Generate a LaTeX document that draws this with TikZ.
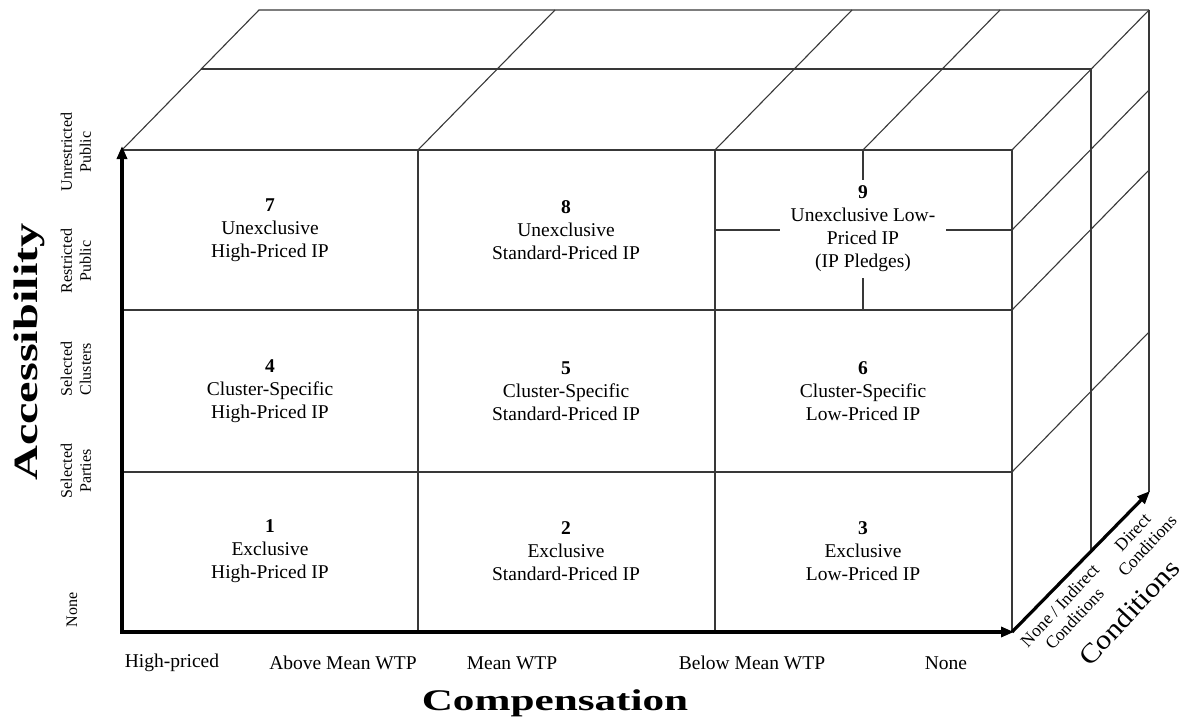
\documentclass[tikz,border=0pt]{standalone}
\usepackage{fontspec}
\setmainfont{Liberation Serif}
\usetikzlibrary{arrows.meta}
\begin{document}
\begin{tikzpicture}[x=1pt,y=-1pt,
  grid/.style={line width=1.1pt, draw=black!78},
  axisline/.style={line width=3.2pt, draw=black, line join=miter},
  tip/.tip={Triangle[length=13pt,width=10pt]},
  cell/.style={align=center, font=\fontsize{19.5}{23}\selectfont, inner sep=0pt},
  sidelab/.style={align=center, rotate=90, font=\fontsize{16}{19}\selectfont, inner sep=0pt},
  botlab/.style={font=\fontsize{19.5}{23}\selectfont, inner sep=0pt},
  condlab/.style={align=center, rotate=47, font=\fontsize{17.5}{20}\selectfont, inner sep=0pt},
  title/.style={font=\bfseries\fontsize{30}{34}\selectfont, inner sep=0pt}]
\useasboundingbox (0,0) rectangle (1186,725);

% named corners
\coordinate (FTL) at (122,150);
\coordinate (FTR) at (1012,150);
\coordinate (FBL) at (122,632);
\coordinate (FBR) at (1012,632);
\coordinate (BTL) at (259,10);
\coordinate (BTR) at (1149,10);
\coordinate (BBR) at (1149,492);
\coordinate (MTL) at (201,69);
\coordinate (MTR) at (1091,69);
\coordinate (MBR) at (1091,551);

% front face
\draw[grid] (FTL) -- (FTR) -- (FBR);
\draw[grid] (122,310) -- (1012,310);
\draw[grid] (122,472) -- (1012,472);
\draw[grid] (418,150) -- (418,632);
\draw[grid] (715,150) -- (715,632);
\draw[grid] (863,150) -- (863,310);
\draw[grid] (715,230) -- (1012,230);

% top face
\draw[grid] (FTL) -- (BTL) -- (BTR);
\draw[grid] (418,150) -- (555,10);
\draw[grid] (715,150) -- (852,10);
\draw[grid] (863,150) -- (1000,10);
\draw[grid] (FTR) -- (BTR);
\draw[grid] (MTL) -- (MTR);

% right face
\draw[grid] (1012,230) -- (1149,90);
\draw[grid] (1012,310) -- (1149,170);
\draw[grid] (1012,472) -- (1149,332);
\draw[grid] (BTR) -- (BBR);
\draw[grid] (MTR) -- (MBR);

% cells
\node[cell] (c7) at (270,230) {\textbf{7}\\Unexclusive\\High-Priced IP};
\node[cell] (c8) at (566,230) {\textbf{8}\\Unexclusive\\Standard-Priced IP};
\node[cell, fill=white, inner xsep=11pt, inner ysep=6pt] (c9) at (863,229) {\textbf{9}\\Unexclusive Low-\\Priced IP\\(IP Pledges)};
\node[cell] (c4) at (270,391) {\textbf{4}\\Cluster-Specific\\High-Priced IP};
\node[cell] (c5) at (566,391) {\textbf{5}\\Cluster-Specific\\Standard-Priced IP};
\node[cell] (c6) at (863,391) {\textbf{6}\\Cluster-Specific\\Low-Priced IP};
\node[cell] (c1) at (270,551) {\textbf{1}\\Exclusive\\High-Priced IP};
\node[cell] (c2) at (566,551) {\textbf{2}\\Exclusive\\Standard-Priced IP};
\node[cell] (c3) at (863,551) {\textbf{3}\\Exclusive\\Low-Priced IP};

% axes
\draw[axisline, tip-tip] (122,146) -- (FBL) -- (1014,632);
\draw[axisline, -tip] (FBR) -- (1150,491);

% accessibility labels
\node[sidelab] (a0) at (72,610) {None};
\node[sidelab] (a1) at (76,471) {Selected\\Parties};
\node[sidelab] (a2) at (76,369) {Selected\\Clusters};
\node[sidelab] (a3) at (76,261) {Restricted\\Public};
\node[sidelab] (a4) at (76,152) {Unrestricted\\Public};
\node[title, rotate=90, font=\bfseries\fontsize{34}{38}\selectfont] (acc) at (29,352) {\scalebox{1.42}[1]{Accessibility}};

% compensation labels
\node[botlab] (p0) at (172,663) {High-priced};
\node[botlab] (p1) at (343,663) {Above Mean WTP};
\node[botlab] (p2) at (512,663) {Mean WTP};
\node[botlab] (p3) at (752,663) {Below Mean WTP};
\node[botlab] (p4) at (946,663) {None};
\node[title] (comp) at (555,703) {\scalebox{1.44}[1]{Compensation}};

% conditions labels
\node[condlab] (k0) at (1067,612) {None / Indirect\\Conditions};
\node[condlab] (k1) at (1140,539) {Direct\\Conditions};
\node[rotate=47, inner sep=0pt, font=\fontsize{27}{31}\selectfont] (cond) at (1129,612) {\scalebox{1.13}[1]{Conditions}};
\end{tikzpicture}
\end{document}
